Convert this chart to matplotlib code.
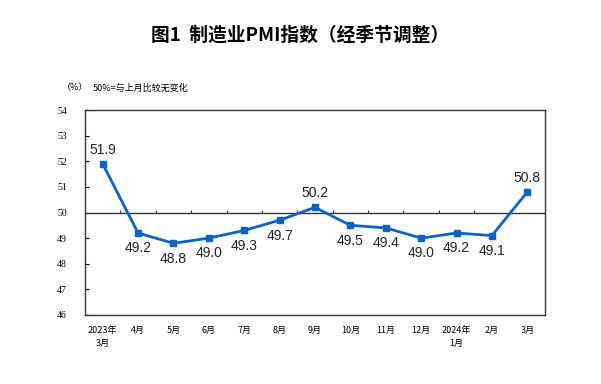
import numpy as np
import matplotlib
matplotlib.use('Agg')
import matplotlib.pyplot as plt

plt.rcParams['font.family'] = ['Noto Sans CJK SC', 'DejaVu Sans']

# data
months = ['2023年\n3月', '4月', '5月', '6月', '7月', '8月', '9月', '10月',
          '11月', '12月', '2024年\n1月', '2月', '3月']
pmi = [51.9, 49.2, 48.8, 49.0, 49.3, 49.7, 50.2, 49.5, 49.4, 49.0, 49.2, 49.1, 50.8]
label_above = [True, False, False, False, False, False, True, False, False, False, False, False, True]

fig = plt.figure(figsize=(6.01, 3.84), dpi=100)
ax = fig.add_axes([0.1414, 0.1797, 0.7654, 0.5338])

x = np.arange(len(months))
ax.plot(x, pmi, color='#0a64c8', lw=2, marker='s', ms=4.5, zorder=3)

# 50 reference line with small ticks between months
ax.axhline(50, color='#333333', lw=1, zorder=2)
ax.vlines(x[:-1] + 0.5, 50, 50.1, color='#333333', lw=0.8, zorder=2)

for xi, v, up in zip(x, pmi, label_above):
    if up:
        ax.annotate(f'{v:.1f}', (xi, v), xytext=(0, 5), textcoords='offset points',
                    ha='center', va='bottom', fontsize=10, color='#222222',
                    family='Liberation Sans')
    else:
        ax.annotate(f'{v:.1f}', (xi, v), xytext=(0, -6), textcoords='offset points',
                    ha='center', va='top', fontsize=10, color='#222222',
                    family='Liberation Sans')

ax.set_xlim(-0.5, len(months) - 0.5)
ax.set_ylim(46, 54)
ax.set_yticks(range(46, 55))
ax.set_xticks(x)
ax.set_xticklabels(months, fontsize=6.5, linespacing=1.5)
ax.tick_params(axis='x', length=0, pad=8)
ax.tick_params(axis='y', direction='in', length=3, labelsize=7, pad=13)
for lbl in ax.get_yticklabels():
    lbl.set_family('Liberation Serif')
for s in ax.spines.values():
    s.set_color('#333333')
    s.set_linewidth(1)

fig.text(0.103, 0.771, '（%）', fontsize=6.5, ha='left', va='center')
fig.text(0.155, 0.771, '50%=与上月比较无变化', fontsize=6.5, ha='left', va='center')
fig.text(0.5, 0.909, '图1  制造业PMI指数（经季节调整）', fontsize=13.5,
         fontweight='bold', ha='center', va='center')

fig.savefig('out.png', dpi=100)
